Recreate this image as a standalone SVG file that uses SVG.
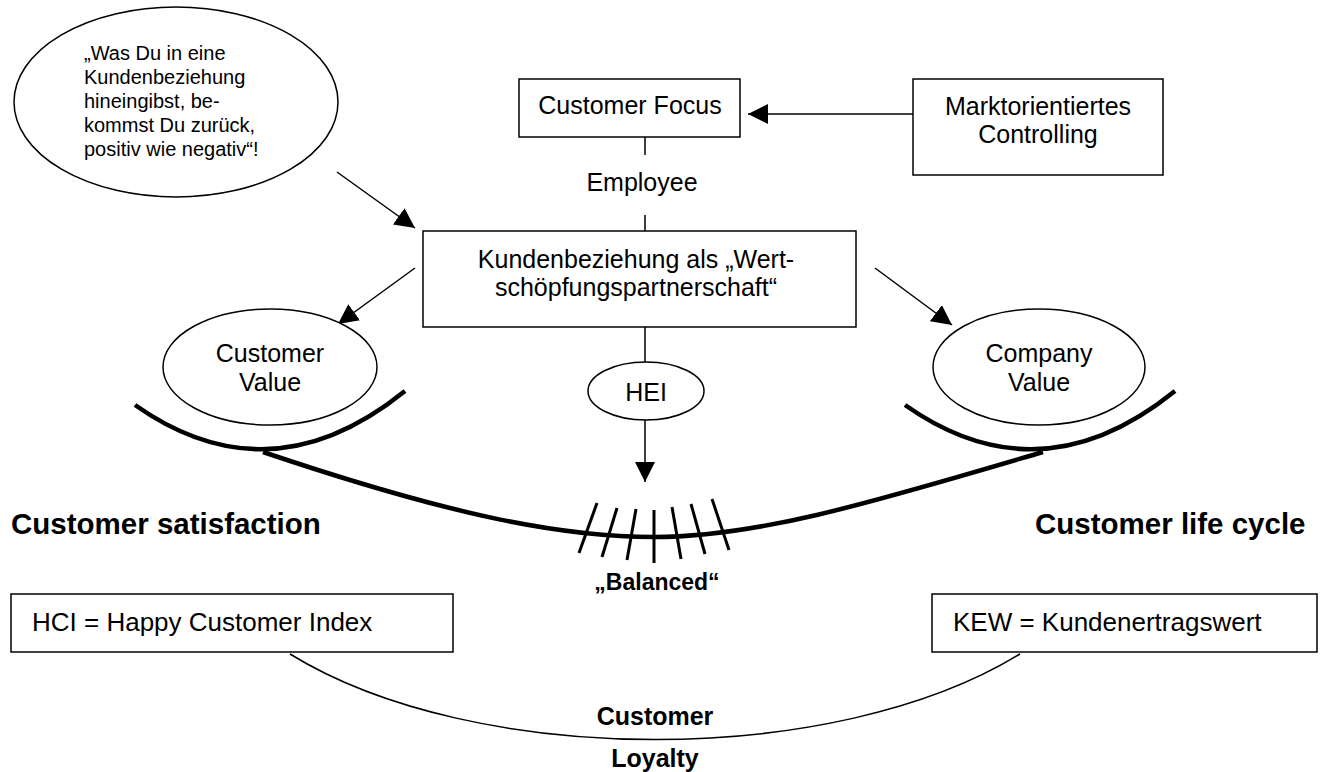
<svg xmlns="http://www.w3.org/2000/svg" width="1325" height="772" viewBox="0 0 1325 772">
  <defs>
    <marker id="arrow" viewBox="0 0 10 10" refX="10" refY="5" markerWidth="20" markerHeight="20" markerUnits="userSpaceOnUse" orient="auto">
      <path d="M0,0 L10,5 L0,10 Z" fill="#000"/>
    </marker>
    <style>
      .box { fill: #fff; stroke: #000; stroke-width: 1.5; }
      .oval { fill: #fff; stroke: #000; stroke-width: 1.5; }
      .txt { font-family: "Liberation Sans", Arial, sans-serif; fill: #000; }
      .reg { font-size: 25px; }
      .small { font-size: 20px; }
      .bold { font-weight: bold; font-size: 29.5px; }
      .mid { text-anchor: middle; }
      .thin { fill: none; stroke: #000; stroke-width: 1.5; }
      .heavy { fill: none; stroke: #000; stroke-width: 4.5; }
      .hatch { fill: none; stroke: #000; stroke-width: 3; }
    </style>
  </defs>

  <rect width="1325" height="772" fill="#fff"/>

  <!-- connectors -->
  <g id="connectors">
    <line class="thin" x1="337" y1="172" x2="415" y2="228" marker-end="url(#arrow)"/>
    <line class="thin" x1="913" y1="114" x2="748" y2="114" marker-end="url(#arrow)"/>
    <line class="thin" x1="645" y1="137" x2="645" y2="155"/>
    <line class="thin" x1="645" y1="215" x2="645" y2="231"/>
    <line class="thin" x1="415" y1="268" x2="338" y2="324" marker-end="url(#arrow)"/>
    <line class="thin" x1="875" y1="268" x2="952" y2="325" marker-end="url(#arrow)"/>
    <line class="thin" x1="645" y1="327" x2="645" y2="362"/>
    <line class="thin" x1="645" y1="420" x2="645" y2="482" marker-end="url(#arrow)"/>
    <!-- cradles under the two value ovals and the balance beam -->
    <path class="heavy" d="M135,405 Q270,500 405,391"/>
    <path class="heavy" d="M905,405 Q1040,500 1175,391"/>
    <path class="heavy" d="M263,452 C450,515 560,537 654,537 C760,537 880,500 1043,452"/>
    <!-- tick marks on the beam -->
    <g class="hatch">
      <line x1="597" y1="503" x2="579" y2="553"/>
      <line x1="617" y1="508" x2="602" y2="557"/>
      <line x1="636" y1="509" x2="627" y2="560"/>
      <line x1="654" y1="510" x2="654" y2="563"/>
      <line x1="672" y1="507" x2="681" y2="559"/>
      <line x1="691" y1="504" x2="705" y2="554"/>
      <line x1="712" y1="499" x2="729" y2="550"/>
    </g>
    <!-- loyalty curve between the two index boxes -->
    <path class="thin" d="M290,654 C475,768 835,768 1020,654"/>
  </g>

  <g id="quote">
    <ellipse class="oval" cx="176" cy="102" rx="162" ry="95"/>
    <text class="txt small" x="84" y="60">„Was Du in eine</text>
    <text class="txt small" x="84" y="84">Kundenbeziehung</text>
    <text class="txt small" x="84" y="108">hineingibst, be-</text>
    <text class="txt small" x="84" y="132">kommst Du zurück,</text>
    <text class="txt small" x="84" y="156">positiv wie negativ“!</text>
  </g>

  <g id="customer-focus">
    <rect class="box" x="519" y="79" width="221" height="58"/>
    <text class="txt reg mid" x="630" y="114">Customer Focus</text>
  </g>

  <g id="controlling">
    <rect class="box" x="913" y="79" width="250" height="96"/>
    <text class="txt reg mid" x="1038" y="115">Marktorientiertes</text>
    <text class="txt reg mid" x="1038" y="143">Controlling</text>
  </g>

  <g id="employee">
    <text class="txt reg mid" x="642" y="191">Employee</text>
  </g>

  <g id="partnership">
    <rect class="box" x="423" y="231" width="433" height="96"/>
    <text class="txt reg mid" x="636" y="268">Kundenbeziehung als „Wert-</text>
    <text class="txt reg mid" x="636" y="296">schöpfungspartnerschaft“</text>
  </g>

  <g id="customer-value">
    <ellipse class="oval" cx="270" cy="367" rx="107" ry="58"/>
    <text class="txt reg mid" x="270" y="362">Customer</text>
    <text class="txt reg mid" x="270" y="391">Value</text>
  </g>

  <g id="company-value">
    <ellipse class="oval" cx="1039" cy="367" rx="106" ry="58"/>
    <text class="txt reg mid" x="1039" y="362">Company</text>
    <text class="txt reg mid" x="1039" y="391">Value</text>
  </g>

  <g id="hei">
    <ellipse class="oval" cx="646" cy="391" rx="58" ry="29"/>
    <text class="txt reg mid" x="646" y="401">HEI</text>
  </g>

  <g id="satisfaction">
    <text class="txt bold" x="11" y="534">Customer satisfaction</text>
  </g>

  <g id="life-cycle">
    <text class="txt bold" x="1035" y="534">Customer life cycle</text>
  </g>

  <g id="balanced">
    <text class="txt bold mid" x="657" y="590" style="font-size:23px">„Balanced“</text>
  </g>

  <g id="hci">
    <rect class="box" x="11" y="594" width="442" height="58"/>
    <text class="txt reg" x="32" y="631" style="font-size:26px">HCI = Happy Customer Index</text>
  </g>

  <g id="kew">
    <rect class="box" x="932" y="594" width="385" height="58"/>
    <text class="txt reg" x="953" y="631" style="font-size:26px">KEW = Kundenertragswert</text>
  </g>

  <g id="loyalty">
    <text class="txt bold mid" x="655" y="725" style="font-size:25px">Customer</text>
    <text class="txt bold mid" x="655" y="767" style="font-size:25px">Loyalty</text>
  </g>
</svg>
